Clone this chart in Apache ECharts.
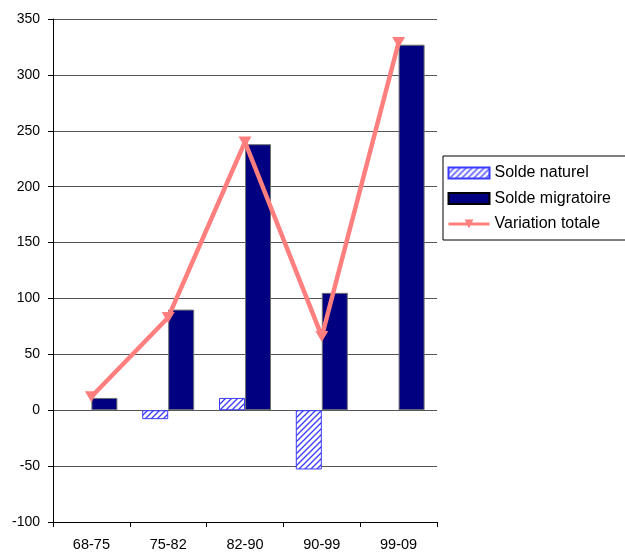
<!DOCTYPE html>
<html>
<head>
<meta charset="utf-8">
<script src="https://cdn.jsdelivr.net/npm/echarts@6/dist/echarts.min.js"></script>
<style>
  html, body { margin: 0; padding: 0; background: #fff; }
  #chart { width: 625px; height: 552px; }
</style>
</head>
<body>
<div id="chart"></div>
<script>
// Périodes intercensitaires
const categories = ['68-75', '75-82', '82-90', '90-99', '99-09'];
// Composantes de la variation de population
const soldeNaturel = [0, -8, 11, -53, 0];
const soldeMigratoire = [11, 90, 238, 105, 327];
const variationTotale = [12, 83, 240, 66, 329];
// Graduations de l'axe vertical
const yMin = -100, yMax = 350, yStep = 50;

// Motif hachuré pour le solde naturel
function hatchPattern() {
  const s = 6;
  const c = document.createElement('canvas');
  c.width = s; c.height = s;
  const g = c.getContext('2d');
  g.fillStyle = '#ffffff';
  g.fillRect(0, 0, s, s);
  g.strokeStyle = '#3a3aff';
  g.lineWidth = 1.3;
  g.beginPath();
  g.moveTo(-1, s + 1); g.lineTo(s + 1, -1);
  g.moveTo(-1, 1); g.lineTo(1, -1);
  g.moveTo(s - 1, s + 1); g.lineTo(s + 1, s - 1);
  g.stroke();
  return { image: c, repeat: 'repeat' };
}

// Une barre nulle n'est pas tracée (pas de contour résiduel)
const noZero = arr => arr.map(v => (v === 0 ? null : v));

const chart = echarts.init(document.getElementById('chart'), null, { renderer: 'canvas' });
const font = 'Liberation Sans, Arial, sans-serif';

chart.setOption({
  animation: false,
  backgroundColor: '#ffffff',
  textStyle: { fontFamily: font },
  grid: { left: 53, top: 19, right: 188, bottom: 30, containLabel: false },
  legend: {
    orient: 'vertical',
    left: 443,
    top: 156,
    padding: [8, 40, 7, 4],
    borderColor: '#000',
    borderWidth: 1,
    itemWidth: 41,
    itemHeight: 11,
    itemGap: 7.5,
    textStyle: { fontFamily: font, fontSize: 16, color: '#000', lineHeight: 18 },
    data: [
      { name: 'Solde naturel', icon: 'rect' },
      { name: 'Solde migratoire', icon: 'rect', itemStyle: { borderColor: '#000' } },
      { name: 'Variation totale', lineStyle: { width: 3 } }
    ]
  },
  xAxis: {
    type: 'category',
    data: categories,
    boundaryGap: true,
    axisLine: { onZero: false, lineStyle: { color: '#000', width: 1 } },
    axisTick: { show: true, length: 5, lineStyle: { color: '#000' } },
    axisLabel: { color: '#000', fontSize: 14.5, fontFamily: font, margin: 15 },
    splitLine: { show: false }
  },
  yAxis: {
    type: 'value',
    min: yMin, max: yMax, interval: yStep,
    axisLine: { show: true, lineStyle: { color: '#000', width: 1 } },
    axisTick: { show: true, length: 5, lineStyle: { color: '#000' } },
    axisLabel: { color: '#000', fontSize: 14, fontFamily: font, margin: 13 },
    splitLine: { show: true, lineStyle: { color: '#555555', width: 1 } }
  },
  series: [
    {
      name: 'Solde naturel',
      type: 'bar',
      data: noZero(soldeNaturel),
      barWidth: 26,
      barGap: '0%',
      itemStyle: { color: hatchPattern(), borderColor: '#3a3aff', borderWidth: 1 },
      z: 2
    },
    {
      name: 'Solde migratoire',
      type: 'bar',
      data: noZero(soldeMigratoire),
      barWidth: 26,
      barGap: '0%',
      itemStyle: { color: '#000080', borderColor: '#707070', borderWidth: 1 },
      z: 2
    },
    {
      name: 'Variation totale',
      type: 'line',
      data: variationTotale,
      symbol: 'triangle',
      symbolRotate: 180,
      symbolSize: [13, 11],
      lineStyle: { color: '#ff7f7f', width: 4.5 },
      itemStyle: { color: '#ff7f7f', borderWidth: 0 },
      z: 5
    }
  ]
});
</script>
</body>
</html>
